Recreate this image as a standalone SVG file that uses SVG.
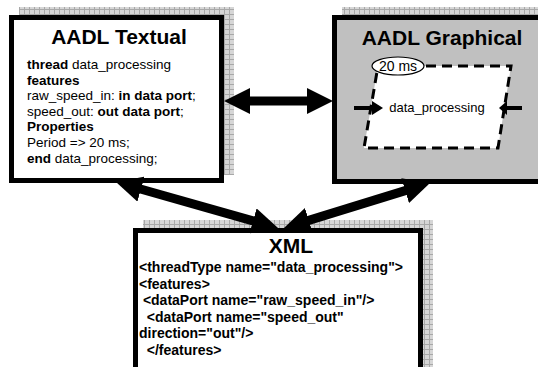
<svg xmlns="http://www.w3.org/2000/svg" width="538" height="367" viewBox="0 0 538 367">
<style>
.box{stroke:#000;stroke-width:5}
.shadow{fill:url(#grid)}
.title{font-family:"Liberation Sans",Arial,sans-serif;font-weight:bold;font-size:21px;text-anchor:middle;fill:#000}
.body{font-family:"Liberation Sans",Arial,sans-serif;font-size:13.5px;fill:#000}
.xml{font-family:"Liberation Sans",Arial,sans-serif;font-size:14px;font-weight:bold;fill:#000;white-space:pre}
.b{font-weight:bold}
.conn{stroke:#000;stroke-width:9;fill:none;marker-start:url(#head);marker-end:url(#head)}
</style>
<defs>
<pattern id="grid" width="5" height="5" patternUnits="userSpaceOnUse">
<rect width="5" height="5" fill="#d6d6d6"/>
<path d="M4.5 0V5M0 4.5H5" stroke="#a8a8a8" stroke-width="1"/>
</pattern>
<marker id="head" viewBox="0 0 26 26" refX="6" refY="13" markerWidth="26" markerHeight="26" markerUnits="userSpaceOnUse" orient="auto-start-reverse">
<path d="M0 0L26 13L0 26z" fill="#000"/>
</marker>
</defs>
<rect width="538" height="367" fill="#fff"/>

<g id="textual">
<rect class="shadow" x="19" y="7" width="215" height="168"/>
<rect class="box" x="11.5" y="17.5" width="210" height="163" fill="#fff"/>
<text class="title" x="119" y="44">AADL Textual</text>
<text class="body" x="27" y="69"><tspan class="b">thread</tspan> data_processing</text>
<text class="body b" x="27" y="84.6">features</text>
<text class="body" x="27" y="100.2">raw_speed_in: <tspan class="b">in data port</tspan>;</text>
<text class="body" x="27" y="115.8">speed_out: <tspan class="b">out data port</tspan>;</text>
<text class="body b" x="27" y="131.4">Properties</text>
<text class="body" x="27" y="147">Period =&gt; 20 ms;</text>
<text class="body" x="27" y="162.6"><tspan class="b">end</tspan> data_processing;</text>
</g>

<g id="graphical">
<rect class="shadow" x="342" y="7" width="210" height="169"/>
<rect class="box" x="334.5" y="17.5" width="210" height="164" fill="#c0c0c0"/>
<text class="title" x="442" y="45">AADL Graphical</text>
<g id="thread">
<polygon points="378,66 511,66 498,148 364,148" fill="#fff" stroke="#000" stroke-width="3" stroke-dasharray="10,6"/>
<ellipse cx="398" cy="66" rx="26" ry="9" fill="#fff" stroke="#000" stroke-width="1.2"/>
<text class="body" x="398" y="71" text-anchor="middle" style="font-size:14px">20 ms</text>
<text class="body" x="437" y="112" text-anchor="middle" style="font-size:13px">data_processing</text>
<path d="M354 108H374" stroke="#000" stroke-width="4"/>
<path d="M372 101L383 108L372 115z" fill="#000"/>
<path d="M505 108H522" stroke="#000" stroke-width="4"/>
<path d="M499 108L507 101L507 115z" fill="#000"/>
</g>
</g>

<g id="xml">
<rect class="shadow" x="143" y="220" width="290" height="150"/>
<rect class="box" x="135.5" y="230.5" width="285" height="145" fill="#fff"/>
<text class="title" x="291" y="253">XML</text>
<text class="xml" x="139" y="272">&lt;threadType name="data_processing"&gt;</text>
<text class="xml" x="139" y="288.5">&lt;features&gt;</text>
<text class="xml" x="139" y="305"> &lt;dataPort name="raw_speed_in"/&gt;</text>
<text class="xml" x="139" y="321.5">  &lt;dataPort name="speed_out"</text>
<text class="xml" x="139" y="338">direction="out"/&gt;</text>
<text class="xml" x="139" y="354.5">  &lt;/features&gt;</text>
</g>

<g id="connectors">
<line class="conn" x1="244" y1="101" x2="313" y2="101"/>
<line class="conn" x1="135.2" y1="187.5" x2="258.8" y2="222.5"/>
<line class="conn" x1="303.1" y1="222.1" x2="410.9" y2="188.9"/>
</g>
</svg>
